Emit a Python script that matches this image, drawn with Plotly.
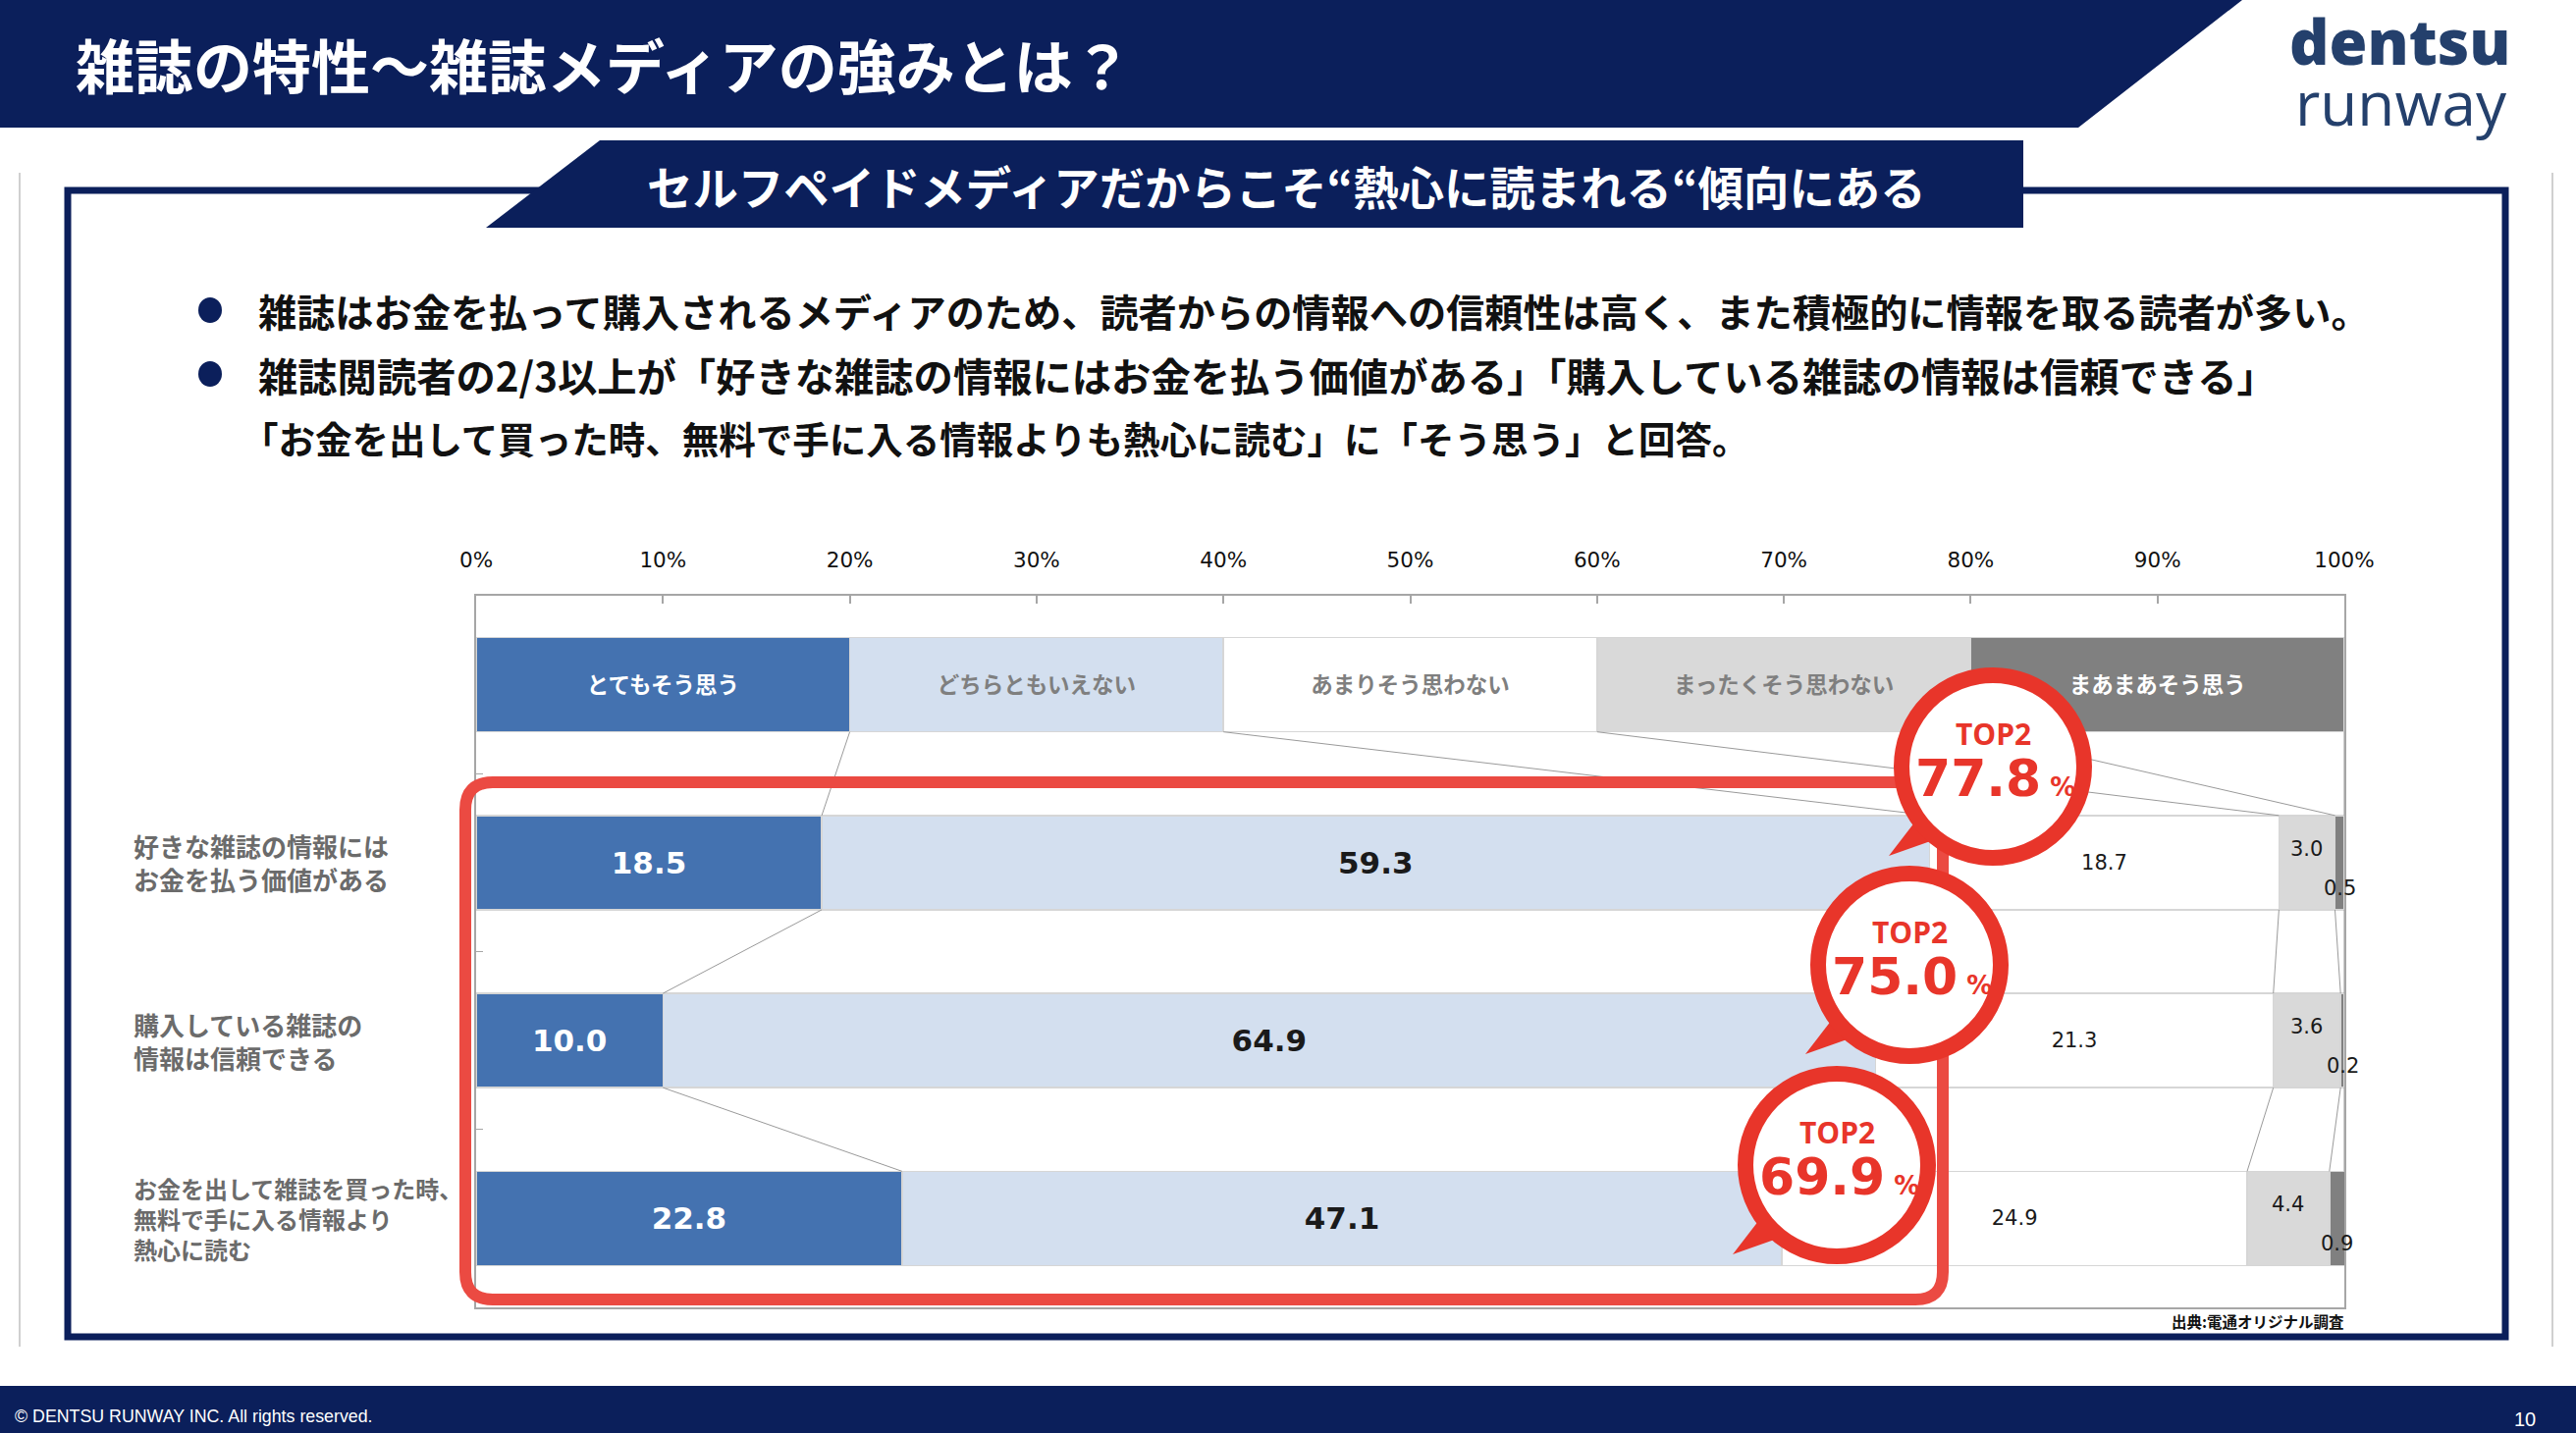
import plotly.graph_objects as go

# ---------------- data ----------------
header_names = ["とてもそう思う", "どちらともいえない", "あまりそう思わない", "まったくそう思わない", "まあまあそう思う"]
header_values = [20, 20, 20, 20, 20]
row_labels = [
    "好きな雑誌の情報には<br>お金を払う価値がある",
    "購入している雑誌の<br>情報は信頼できる",
    "お金を出して雑誌を買った時、<br>無料で手に入る情報より<br>熱心に読む",
]
s1 = [18.5, 10.0, 22.8]
s2 = [59.3, 64.9, 47.1]
s3 = [18.7, 21.3, 24.9]
s4 = [3.0, 3.6, 4.4]
s5 = [0.5, 0.2, 0.9]
top2 = [77.8, 75.0, 69.9]
x_ticks = [0, 10, 20, 30, 40, 50, 60, 70, 80, 90, 100]
x_tick_labels = ["0%", "10%", "20%", "30%", "40%", "50%", "60%", "70%", "80%", "90%", "100%"]

title_text = "雑誌の特性～雑誌メディアの強みとは？"
subtitle_text = "セルフペイドメディアだからこそ“熱心に読まれる“傾向にある"
bullet_lines = [
    "雑誌はお金を払って購入されるメディアのため、読者からの情報への信頼性は高く、また積極的に情報を取る読者が多い。",
    "雑誌閲読者の2/3以上が「好きな雑誌の情報にはお金を払う価値がある」「購入している雑誌の情報は信頼できる」",
    "「お金を出して買った時、無料で手に入る情報よりも熱心に読む」に「そう思う」と回答。",
]
logo_words = ["dentsu", "runway"]
source_text = "出典:電通オリジナル調査"
footer_text = "© DENTSU RUNWAY INC. All rights reserved."
page_no = "10"

# ---------------- style ----------------
W, H = 2624, 1460
NAVY = "#0B1F5B"
RED = "#E8352A"
RECT_RED = "#EB4A42"
series = [s1, s2, s3, s4, s5]
colors = ["#4472B0", "#D3DFEF", "#FFFFFF", "#D9D9D9", "#808080"]
header_txt_colors = ["white", "#7F7F7F", "#7F7F7F", "#7F7F7F", "white"]
JP = "Noto Sans CJK JP"
NUM = "DejaVu Sans, Noto Sans CJK JP"
BW = 0.53  # bar thickness (category units)

PX0, PX1, PY0, PY1 = 485, 2388, 607, 1332  # plot area in reference pixels

fig = go.Figure()

# ---------------- bars ----------------
for j in range(5):
    xs = [header_values[j]] + list(series[j])
    texts = ["<b>" + header_names[j] + "</b>"]
    tcol = [header_txt_colors[j]]
    tsize = [22.5]
    for v in series[j]:
        if j == 0:
            texts.append("<b>%.1f</b>" % v); tcol.append("white"); tsize.append(31)
        elif j == 1:
            texts.append("<b>%.1f</b>" % v); tcol.append("#1A1A1A"); tsize.append(31)
        elif j == 2:
            texts.append("%.1f" % v); tcol.append("#1A1A1A"); tsize.append(21)
        else:
            texts.append(""); tcol.append("#1A1A1A"); tsize.append(21)
    fig.add_trace(go.Bar(
        x=xs, y=[0, 1, 2, 3], orientation="h", width=BW,
        marker=dict(color=colors[j], line=dict(color="#D6D6D6", width=1.5)),
        text=texts, textposition="inside", insidetextanchor="middle", textangle=0,
        constraintext="none",
        textfont=dict(family=NUM, color=tcol, size=tsize),
        hoverinfo="skip", showlegend=False, cliponaxis=True,
    ))

# ---------------- series connector lines ----------------
rows_cum = []
cum = 0
hc = []
for v in header_values:
    cum += v
    hc.append(min(cum, 100))
rows_cum.append(hc)
for r in range(3):
    cum = 0
    rc = []
    for j in range(5):
        cum += series[j][r]
        rc.append(min(cum, 100))
    rows_cum.append(rc)

lx, ly = [], []
for r in range(3):
    for k in range(5):
        lx += [rows_cum[r][k], rows_cum[r + 1][k], None]
        ly += [r + BW / 2, r + 1 - BW / 2, None]
fig.add_trace(go.Scatter(x=lx, y=ly, mode="lines", line=dict(color="#9A9A9A", width=1),
                         hoverinfo="skip", showlegend=False))

# invisible pixel-space axes for decoration
fig.add_trace(go.Scatter(x=[0], y=[0], xaxis="x2", yaxis="y2", mode="markers",
                         marker=dict(opacity=0), hoverinfo="skip", showlegend=False))

shapes = []
annots = []

def px_shape(**kw):
    d = dict(xref="x2", yref="y2")
    d.update(kw)
    shapes.append(d)

def px_text(x, y, text, size, color, family=JP, weight=400, xanchor="center", **kw):
    d = dict(xref="x2", yref="y2", x=x, y=y, text=text, showarrow=False, xanchor=xanchor,
             yanchor="middle", font=dict(family=family, size=size, color=color, weight=weight))
    d.update(kw)
    annots.append(d)

# page frame
px_shape(type="line", x0=20, x1=20, y0=176, y1=1372, line=dict(color="#D0D0D0", width=2), layer="below")
px_shape(type="line", x0=2600, x1=2600, y0=176, y1=1372, line=dict(color="#D0D0D0", width=2), layer="below")
px_shape(type="rect", x0=69, x1=2552, y0=194, y1=1362, line=dict(color=NAVY, width=7), fillcolor="rgba(0,0,0,0)", layer="below")
# top banner
px_shape(type="path", path="M-20,0 L2284,0 L2117,130 L-20,130 Z", fillcolor=NAVY, line=dict(width=0), layer="above")
# subtitle banner
px_shape(type="path", path="M611,143 L2061,143 L2061,232 L495,232 Z", fillcolor=NAVY, line=dict(width=0), layer="above")
# footer
px_shape(type="rect", x0=-20, x1=W + 20, y0=1412, y1=H, fillcolor=NAVY, line=dict(width=0), layer="above")
# bullets
for by in [316, 381]:
    px_shape(type="circle", x0=214 - 12, x1=214 + 12, y0=by - 13, y1=by + 13, fillcolor=NAVY, line=dict(width=0), layer="above")

# red rounded rectangle
x0, y0, x1, y1, rr = 474, 797, 1979, 1324, 28
path = (f"M{x0+rr},{y0} L{x1-rr},{y0} Q{x1},{y0} {x1},{y0+rr} L{x1},{y1-rr} Q{x1},{y1} {x1-rr},{y1} "
        f"L{x0+rr},{y1} Q{x0},{y1} {x0},{y1-rr} L{x0},{y0+rr} Q{x0},{y0} {x0+rr},{y0} Z")
px_shape(type="path", path=path, line=dict(color=RECT_RED, width=12), fillcolor="rgba(0,0,0,0)", layer="above")

# TOP2 bubbles
centers = [(2030, 781), (1945, 983), (1871, 1187)]
for (cx, cy), v in zip(centers, top2):
    px_shape(type="path",
             path=f"M{cx-106},{cy+91} L{cx-76},{cy+52} L{cx-55},{cy+73} Z",
             fillcolor=RED, line=dict(width=0), layer="above")
    px_shape(type="circle", x0=cx - 93, x1=cx + 93, y0=cy - 93, y1=cy + 93,
             fillcolor="white", line=dict(color=RED, width=16), layer="above")
    px_text(cx, cy - 34, "TOP2", 30, RED, family="Open Sans", weight=700)
    px_text(cx + 2, cy + 12, "%.1f<span style='font-size:26px'> %%</span>" % v, 52, RED,
            family="DejaVu Sans", weight=700)

# titles
px_text(75, 64, title_text, 60, "white", weight=700, xanchor="left")
px_text(1310, 188, subtitle_text, 46.4, "white", weight=700)
for ln, bx, by, fs in zip(bullet_lines, [261, 261, 244], [316, 381, 445], [39.2, 40.3, 37.5]):
    px_text(bx, by, ln, fs, "#111111", weight=700, xanchor="left")

# logo
px_text(2444, 41, logo_words[0], 63, "#24406C", family="Open Sans", weight=800)
px_text(2446, 104, logo_words[1], 62, "#24406C", family="Open Sans", weight=400)

# row labels
for i, lab in enumerate(row_labels):
    annots.append(dict(xref="x2", yref="y", x=134, y=i + 1, text=lab, showarrow=False,
                       xanchor="left", yanchor="middle", align="left",
                       font=dict(family=JP, size=26 if i < 2 else 24, color="#6B6B6B", weight=700)))

# small data labels for series 4 and 5
for r in range(3):
    c3 = rows_cum[r + 1][2]
    c4 = rows_cum[r + 1][3]
    c5 = rows_cum[r + 1][4]
    annots.append(dict(xref="x", yref="y", x=(c3 + c4) / 2, y=r + 1, yshift=14,
                       text="%.1f" % s4[r], showarrow=False,
                       font=dict(family="DejaVu Sans", size=21, color="#1A1A1A")))
    annots.append(dict(xref="x", yref="y", x=(c4 + c5) / 2, y=r + 1, yshift=-26,
                       text="%.1f" % s5[r], showarrow=False,
                       font=dict(family="DejaVu Sans", size=21, color="#1A1A1A")))

# source / footer
px_text(2390, 1346, source_text, 15.5, "#111111", weight=700, xanchor="right")
px_text(13, 1443, footer_text, 17.8, "white", family="Liberation Sans", xanchor="left")
px_text(2572, 1446, page_no, 20, "white", family="Liberation Sans")

fig.update_layout(
    autosize=True, margin=dict(l=0, r=0, t=0, b=0, pad=0),
    paper_bgcolor="white", plot_bgcolor="rgba(0,0,0,0)",
    barmode="stack", showlegend=False,
    xaxis=dict(domain=[PX0 / W, PX1 / W], range=[0, 100], side="top",
               tickvals=x_ticks, ticktext=x_tick_labels,
               ticks="inside", ticklen=8, tickcolor="#A6A6A6", tickwidth=1.5,
               ticklabelstandoff=18,
               tickfont=dict(family="DejaVu Sans", size=21.5, color="#111111"),
               showgrid=False, zeroline=False, showline=True, mirror=True,
               linecolor="#A6A6A6", linewidth=2, fixedrange=True),
    yaxis=dict(domain=[1 - PY1 / H, 1 - PY0 / H], range=[3.5, -0.5],
               tickvals=[0.5, 1.5, 2.5], ticks="inside", ticklen=7, tickcolor="#A6A6A6",
               showticklabels=False, showgrid=False, zeroline=False, showline=True,
               mirror=True, linecolor="#A6A6A6", linewidth=2, fixedrange=True),
    xaxis2=dict(domain=[0, 1], range=[0, W], visible=False, anchor="y2", fixedrange=True),
    yaxis2=dict(domain=[0, 1], range=[H, 0], visible=False, anchor="x2", fixedrange=True),
    shapes=shapes, annotations=annots,
)

fig.write_html("out.html", config={"displayModeBar": False},
               default_width="2672px; position:fixed; left:-17px; top:0px",
               default_height="1460px")
